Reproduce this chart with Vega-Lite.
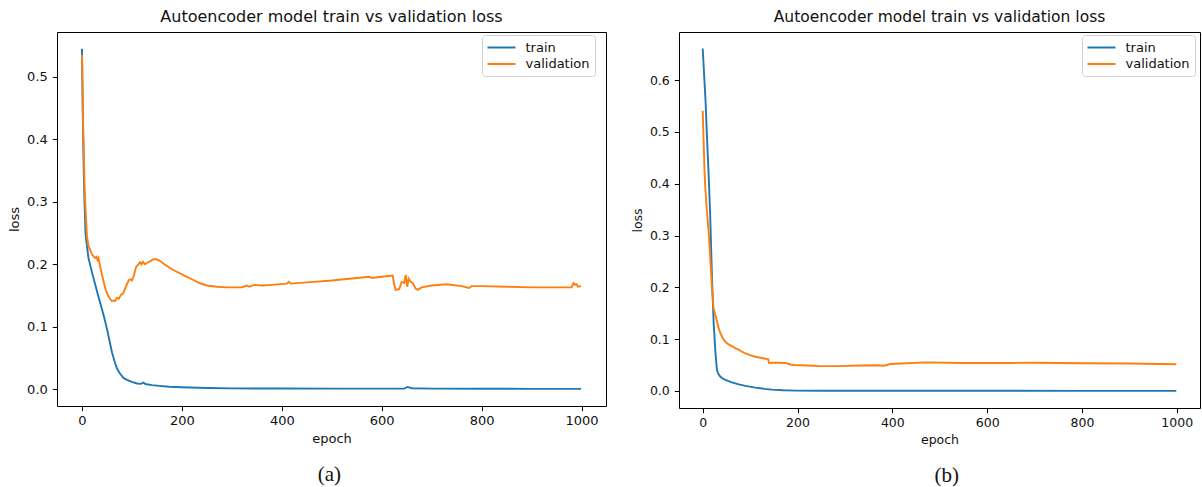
{
  "$schema": "https://vega.github.io/schema/vega-lite/v6.json",
  "padding": {"left": 8, "top": 8, "right": 0, "bottom": 0},
  "background": "white",
  "spacing": 23,
  "resolve": {"scale": {"color": "independent"}, "legend": {"color": "independent"}},
  "config": {
    "view": {"stroke": "black", "strokeWidth": 1},
    "axis": {
      "domain": false, "grid": false, "ticks": true, "tickColor": "black", "tickSize": 4.7, "tickWidth": 1,
      "labelFont": "DejaVu Sans", "labelFontSize": 13, "labelColor": "#111",
      "titleFont": "DejaVu Sans", "titleFontSize": 13, "titleFontWeight": "normal", "titleColor": "#111"
    },
    "axisX": {"labelPadding": 3.5, "titlePadding": 5},
    "axisY": {"labelPadding": 5, "titlePadding": 5},
    "title": {"font": "DejaVu Sans", "fontWeight": "normal", "color": "#111"},
    "legend": {
      "symbolType": "M-1,0H3", "symbolSize": 196, "symbolStrokeWidth": 2, "labelFont": "DejaVu Sans", "labelFontSize": 13,
      "labelColor": "#111", "labelOffset": 23, "rowPadding": 1.5, "padding": 4.5, "cornerRadius": 3,
      "strokeColor": "#d0d0d0", "fillColor": "rgba(255,255,255,0.8)"
    }
  },
  "datasets": {
    "a": [
      {"epoch": 0, "loss": 0.545, "series": "train"},
      {"epoch": 2, "loss": 0.42, "series": "train"},
      {"epoch": 4, "loss": 0.33, "series": "train"},
      {"epoch": 7, "loss": 0.25, "series": "train"},
      {"epoch": 10, "loss": 0.229, "series": "train"},
      {"epoch": 13, "loss": 0.21, "series": "train"},
      {"epoch": 17, "loss": 0.197, "series": "train"},
      {"epoch": 22, "loss": 0.181, "series": "train"},
      {"epoch": 27, "loss": 0.166, "series": "train"},
      {"epoch": 33, "loss": 0.148, "series": "train"},
      {"epoch": 40, "loss": 0.128, "series": "train"},
      {"epoch": 45, "loss": 0.113, "series": "train"},
      {"epoch": 50, "loss": 0.0965, "series": "train"},
      {"epoch": 55, "loss": 0.078, "series": "train"},
      {"epoch": 60, "loss": 0.059, "series": "train"},
      {"epoch": 65, "loss": 0.045, "series": "train"},
      {"epoch": 70, "loss": 0.033, "series": "train"},
      {"epoch": 76, "loss": 0.025, "series": "train"},
      {"epoch": 83, "loss": 0.018, "series": "train"},
      {"epoch": 90, "loss": 0.015, "series": "train"},
      {"epoch": 100, "loss": 0.0115, "series": "train"},
      {"epoch": 110, "loss": 0.009, "series": "train"},
      {"epoch": 118, "loss": 0.0085, "series": "train"},
      {"epoch": 123, "loss": 0.0105, "series": "train"},
      {"epoch": 127, "loss": 0.0082, "series": "train"},
      {"epoch": 140, "loss": 0.0065, "series": "train"},
      {"epoch": 155, "loss": 0.0052, "series": "train"},
      {"epoch": 175, "loss": 0.0038, "series": "train"},
      {"epoch": 200, "loss": 0.003, "series": "train"},
      {"epoch": 250, "loss": 0.0018, "series": "train"},
      {"epoch": 300, "loss": 0.0012, "series": "train"},
      {"epoch": 400, "loss": 0.001, "series": "train"},
      {"epoch": 500, "loss": 0.0009, "series": "train"},
      {"epoch": 600, "loss": 0.0008, "series": "train"},
      {"epoch": 645, "loss": 0.0008, "series": "train"},
      {"epoch": 652, "loss": 0.0035, "series": "train"},
      {"epoch": 660, "loss": 0.0015, "series": "train"},
      {"epoch": 700, "loss": 0.0008, "series": "train"},
      {"epoch": 800, "loss": 0.0006, "series": "train"},
      {"epoch": 900, "loss": 0.0005, "series": "train"},
      {"epoch": 999, "loss": 0.0005, "series": "train"},
      {"epoch": 0, "loss": 0.535, "series": "validation"},
      {"epoch": 2, "loss": 0.43, "series": "validation"},
      {"epoch": 3.5, "loss": 0.39, "series": "validation"},
      {"epoch": 5, "loss": 0.33, "series": "validation"},
      {"epoch": 7, "loss": 0.29, "series": "validation"},
      {"epoch": 10, "loss": 0.245, "series": "validation"},
      {"epoch": 13, "loss": 0.229, "series": "validation"},
      {"epoch": 20, "loss": 0.216, "series": "validation"},
      {"epoch": 26, "loss": 0.21, "series": "validation"},
      {"epoch": 29, "loss": 0.212, "series": "validation"},
      {"epoch": 31, "loss": 0.207, "series": "validation"},
      {"epoch": 33, "loss": 0.21, "series": "validation"},
      {"epoch": 36, "loss": 0.197, "series": "validation"},
      {"epoch": 41, "loss": 0.18, "series": "validation"},
      {"epoch": 47, "loss": 0.16, "series": "validation"},
      {"epoch": 52, "loss": 0.15, "series": "validation"},
      {"epoch": 57, "loss": 0.144, "series": "validation"},
      {"epoch": 60, "loss": 0.141, "series": "validation"},
      {"epoch": 63, "loss": 0.142, "series": "validation"},
      {"epoch": 66, "loss": 0.141, "series": "validation"},
      {"epoch": 70, "loss": 0.146, "series": "validation"},
      {"epoch": 74, "loss": 0.145, "series": "validation"},
      {"epoch": 78, "loss": 0.151, "series": "validation"},
      {"epoch": 82, "loss": 0.153, "series": "validation"},
      {"epoch": 86, "loss": 0.16, "series": "validation"},
      {"epoch": 90, "loss": 0.168, "series": "validation"},
      {"epoch": 94, "loss": 0.175, "series": "validation"},
      {"epoch": 97, "loss": 0.176, "series": "validation"},
      {"epoch": 100, "loss": 0.174, "series": "validation"},
      {"epoch": 104, "loss": 0.182, "series": "validation"},
      {"epoch": 108, "loss": 0.195, "series": "validation"},
      {"epoch": 112, "loss": 0.199, "series": "validation"},
      {"epoch": 116, "loss": 0.203, "series": "validation"},
      {"epoch": 119, "loss": 0.2, "series": "validation"},
      {"epoch": 122, "loss": 0.204, "series": "validation"},
      {"epoch": 126, "loss": 0.2, "series": "validation"},
      {"epoch": 130, "loss": 0.202, "series": "validation"},
      {"epoch": 137, "loss": 0.205, "series": "validation"},
      {"epoch": 143, "loss": 0.208, "series": "validation"},
      {"epoch": 149, "loss": 0.208, "series": "validation"},
      {"epoch": 155, "loss": 0.206, "series": "validation"},
      {"epoch": 165, "loss": 0.2, "series": "validation"},
      {"epoch": 180, "loss": 0.192, "series": "validation"},
      {"epoch": 195, "loss": 0.186, "series": "validation"},
      {"epoch": 207, "loss": 0.181, "series": "validation"},
      {"epoch": 220, "loss": 0.176, "series": "validation"},
      {"epoch": 235, "loss": 0.17, "series": "validation"},
      {"epoch": 250, "loss": 0.166, "series": "validation"},
      {"epoch": 270, "loss": 0.164, "series": "validation"},
      {"epoch": 290, "loss": 0.163, "series": "validation"},
      {"epoch": 320, "loss": 0.163, "series": "validation"},
      {"epoch": 330, "loss": 0.166, "series": "validation"},
      {"epoch": 335, "loss": 0.164, "series": "validation"},
      {"epoch": 345, "loss": 0.167, "series": "validation"},
      {"epoch": 360, "loss": 0.166, "series": "validation"},
      {"epoch": 380, "loss": 0.167, "series": "validation"},
      {"epoch": 410, "loss": 0.169, "series": "validation"},
      {"epoch": 414, "loss": 0.172, "series": "validation"},
      {"epoch": 418, "loss": 0.169, "series": "validation"},
      {"epoch": 450, "loss": 0.171, "series": "validation"},
      {"epoch": 500, "loss": 0.174, "series": "validation"},
      {"epoch": 550, "loss": 0.178, "series": "validation"},
      {"epoch": 575, "loss": 0.18, "series": "validation"},
      {"epoch": 580, "loss": 0.178, "series": "validation"},
      {"epoch": 600, "loss": 0.18, "series": "validation"},
      {"epoch": 622, "loss": 0.182, "series": "validation"},
      {"epoch": 625, "loss": 0.168, "series": "validation"},
      {"epoch": 628, "loss": 0.159, "series": "validation"},
      {"epoch": 635, "loss": 0.16, "series": "validation"},
      {"epoch": 640, "loss": 0.172, "series": "validation"},
      {"epoch": 645, "loss": 0.17, "series": "validation"},
      {"epoch": 648, "loss": 0.183, "series": "validation"},
      {"epoch": 651, "loss": 0.164, "series": "validation"},
      {"epoch": 654, "loss": 0.177, "series": "validation"},
      {"epoch": 658, "loss": 0.172, "series": "validation"},
      {"epoch": 662, "loss": 0.17, "series": "validation"},
      {"epoch": 668, "loss": 0.161, "series": "validation"},
      {"epoch": 672, "loss": 0.159, "series": "validation"},
      {"epoch": 680, "loss": 0.163, "series": "validation"},
      {"epoch": 700, "loss": 0.166, "series": "validation"},
      {"epoch": 730, "loss": 0.168, "series": "validation"},
      {"epoch": 760, "loss": 0.165, "series": "validation"},
      {"epoch": 775, "loss": 0.162, "series": "validation"},
      {"epoch": 780, "loss": 0.165, "series": "validation"},
      {"epoch": 800, "loss": 0.165, "series": "validation"},
      {"epoch": 850, "loss": 0.164, "series": "validation"},
      {"epoch": 900, "loss": 0.163, "series": "validation"},
      {"epoch": 950, "loss": 0.163, "series": "validation"},
      {"epoch": 980, "loss": 0.163, "series": "validation"},
      {"epoch": 984, "loss": 0.17, "series": "validation"},
      {"epoch": 987, "loss": 0.167, "series": "validation"},
      {"epoch": 990, "loss": 0.168, "series": "validation"},
      {"epoch": 993, "loss": 0.164, "series": "validation"},
      {"epoch": 999, "loss": 0.165, "series": "validation"}
    ],
    "b": [
      {"epoch": 0, "loss": 0.661, "series": "train"},
      {"epoch": 3, "loss": 0.61, "series": "train"},
      {"epoch": 6, "loss": 0.56, "series": "train"},
      {"epoch": 9, "loss": 0.49, "series": "train"},
      {"epoch": 12.6, "loss": 0.416, "series": "train"},
      {"epoch": 16, "loss": 0.333, "series": "train"},
      {"epoch": 19.6, "loss": 0.217, "series": "train"},
      {"epoch": 23, "loss": 0.1335, "series": "train"},
      {"epoch": 26.7, "loss": 0.076, "series": "train"},
      {"epoch": 30, "loss": 0.0405, "series": "train"},
      {"epoch": 33, "loss": 0.033, "series": "train"},
      {"epoch": 37, "loss": 0.0276, "series": "train"},
      {"epoch": 42, "loss": 0.024, "series": "train"},
      {"epoch": 48, "loss": 0.0212, "series": "train"},
      {"epoch": 60, "loss": 0.017, "series": "train"},
      {"epoch": 76, "loss": 0.0127, "series": "train"},
      {"epoch": 90, "loss": 0.0098, "series": "train"},
      {"epoch": 111, "loss": 0.0064, "series": "train"},
      {"epoch": 130, "loss": 0.004, "series": "train"},
      {"epoch": 146, "loss": 0.0025, "series": "train"},
      {"epoch": 170, "loss": 0.0012, "series": "train"},
      {"epoch": 195, "loss": 0.0006, "series": "train"},
      {"epoch": 250, "loss": 0.0003, "series": "train"},
      {"epoch": 400, "loss": 0.0002, "series": "train"},
      {"epoch": 600, "loss": 0.0002, "series": "train"},
      {"epoch": 800, "loss": 0.0001, "series": "train"},
      {"epoch": 999, "loss": 0.0001, "series": "train"},
      {"epoch": 0, "loss": 0.541, "series": "validation"},
      {"epoch": 2, "loss": 0.48, "series": "validation"},
      {"epoch": 4, "loss": 0.42, "series": "validation"},
      {"epoch": 5.6, "loss": 0.39, "series": "validation"},
      {"epoch": 9, "loss": 0.345, "series": "validation"},
      {"epoch": 12.6, "loss": 0.307, "series": "validation"},
      {"epoch": 16, "loss": 0.256, "series": "validation"},
      {"epoch": 19.6, "loss": 0.198, "series": "validation"},
      {"epoch": 23, "loss": 0.159, "series": "validation"},
      {"epoch": 26.7, "loss": 0.146, "series": "validation"},
      {"epoch": 30, "loss": 0.135, "series": "validation"},
      {"epoch": 33.7, "loss": 0.121, "series": "validation"},
      {"epoch": 37, "loss": 0.112, "series": "validation"},
      {"epoch": 40.6, "loss": 0.105, "series": "validation"},
      {"epoch": 45, "loss": 0.098, "series": "validation"},
      {"epoch": 51, "loss": 0.092, "series": "validation"},
      {"epoch": 58, "loss": 0.088, "series": "validation"},
      {"epoch": 65, "loss": 0.085, "series": "validation"},
      {"epoch": 69, "loss": 0.082, "series": "validation"},
      {"epoch": 75, "loss": 0.08, "series": "validation"},
      {"epoch": 80, "loss": 0.077, "series": "validation"},
      {"epoch": 90, "loss": 0.0725, "series": "validation"},
      {"epoch": 100, "loss": 0.069, "series": "validation"},
      {"epoch": 111, "loss": 0.066, "series": "validation"},
      {"epoch": 125, "loss": 0.0635, "series": "validation"},
      {"epoch": 135, "loss": 0.0616, "series": "validation"},
      {"epoch": 138, "loss": 0.0615, "series": "validation"},
      {"epoch": 140, "loss": 0.054, "series": "validation"},
      {"epoch": 150, "loss": 0.0545, "series": "validation"},
      {"epoch": 160, "loss": 0.0545, "series": "validation"},
      {"epoch": 175, "loss": 0.054, "series": "validation"},
      {"epoch": 185, "loss": 0.051, "series": "validation"},
      {"epoch": 192, "loss": 0.05, "series": "validation"},
      {"epoch": 210, "loss": 0.0495, "series": "validation"},
      {"epoch": 244, "loss": 0.048, "series": "validation"},
      {"epoch": 280, "loss": 0.0478, "series": "validation"},
      {"epoch": 335, "loss": 0.049, "series": "validation"},
      {"epoch": 370, "loss": 0.0495, "series": "validation"},
      {"epoch": 380, "loss": 0.0485, "series": "validation"},
      {"epoch": 390, "loss": 0.05, "series": "validation"},
      {"epoch": 395, "loss": 0.052, "series": "validation"},
      {"epoch": 420, "loss": 0.053, "series": "validation"},
      {"epoch": 470, "loss": 0.055, "series": "validation"},
      {"epoch": 550, "loss": 0.054, "series": "validation"},
      {"epoch": 650, "loss": 0.054, "series": "validation"},
      {"epoch": 700, "loss": 0.0545, "series": "validation"},
      {"epoch": 800, "loss": 0.0535, "series": "validation"},
      {"epoch": 900, "loss": 0.053, "series": "validation"},
      {"epoch": 999, "loss": 0.0516, "series": "validation"}
    ]
  },
  "hconcat": [
    {
      "title": {"text": "(a)", "orient": "bottom", "font": "Liberation Serif", "fontSize": 21, "anchor": "middle", "frame": "bounds", "dx": 22, "offset": 18},
      "vconcat": [
        {
          "width": 549,
          "height": 374,
          "data": {"name": "a"},
          "title": {"text": "Autoencoder model train vs validation loss", "fontSize": 16, "anchor": "middle", "frame": "group", "offset": 7},
          "mark": {"type": "line", "strokeWidth": 1.9, "clip": true},
          "encoding": {
            "x": {"field": "epoch", "type": "quantitative", "title": "epoch",
                  "scale": {"domain": [-50, 1049], "nice": false, "zero": false},
                  "axis": {"values": [0, 200, 400, 600, 800, 1000], "format": "d"}},
            "y": {"field": "loss", "type": "quantitative", "title": "loss",
                  "scale": {"domain": [-0.027, 0.572], "nice": false, "zero": false},
                  "axis": {"values": [0, 0.1, 0.2, 0.3, 0.4, 0.5], "format": ".1f"}},
            "color": {"field": "series", "type": "nominal",
                      "scale": {"domain": ["train", "validation"], "range": ["#1f77b4", "#ff7f0e"]},
                      "legend": {"title": null, "orient": "none", "legendX": 425, "legendY": 3}}
          }
        }
      ]
    },
    {
      "title": {"text": "(b)", "orient": "bottom", "font": "Liberation Serif", "fontSize": 21, "anchor": "middle", "frame": "bounds", "dx": 31, "offset": 18},
      "vconcat": [
        {
          "width": 521,
          "height": 376,
          "data": {"name": "b"},
          "title": {"text": "Autoencoder model train vs validation loss", "fontSize": 15.5, "anchor": "middle", "frame": "group", "offset": 7},
          "mark": {"type": "line", "strokeWidth": 1.9, "clip": true},
          "encoding": {
            "x": {"field": "epoch", "type": "quantitative", "title": "epoch",
                  "scale": {"domain": [-50, 1049], "nice": false, "zero": false},
                  "axis": {"values": [0, 200, 400, 600, 800, 1000], "format": "d", "labelFontSize": 12.5, "titleFontSize": 12.5}},
            "y": {"field": "loss", "type": "quantitative", "title": "loss",
                  "scale": {"domain": [-0.033, 0.693], "nice": false, "zero": false},
                  "axis": {"values": [0, 0.1, 0.2, 0.3, 0.4, 0.5, 0.6], "format": ".1f", "labelFontSize": 12.5, "titleFontSize": 12.5}},
            "color": {"field": "series", "type": "nominal",
                      "scale": {"domain": ["train", "validation"], "range": ["#1f77b4", "#ff7f0e"]},
                      "legend": {"title": null, "orient": "none", "legendX": 403, "legendY": 3}}
          }
        }
      ]
    }
  ]
}
